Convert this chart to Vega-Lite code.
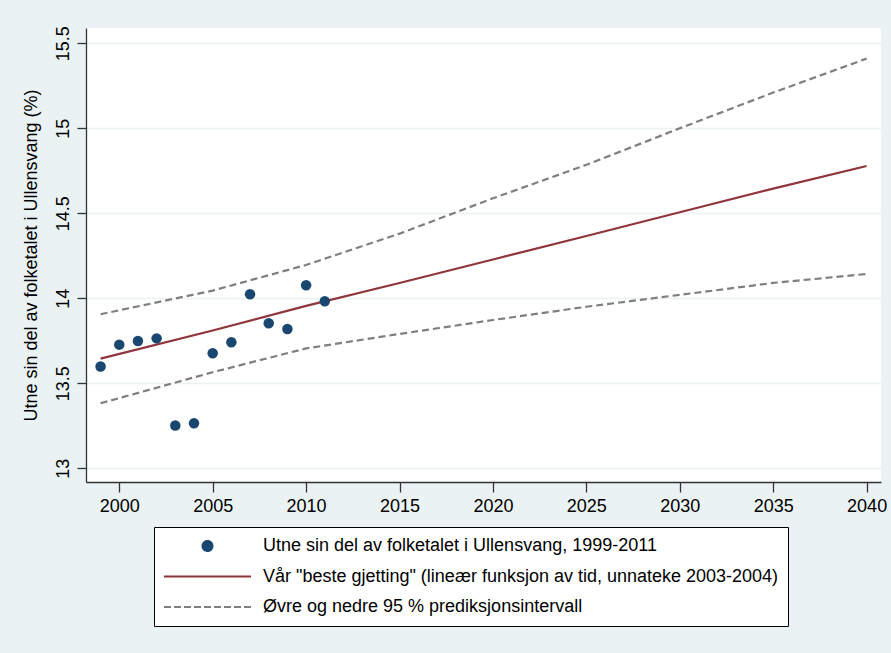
{
  "$schema": "https://vega.github.io/schema/vega-lite/v6.json",
  "width": 795,
  "height": 454,
  "autosize": {"type": "none"},
  "padding": {"left": 86, "top": 28, "right": 10, "bottom": 171},
  "background": "#EAF2F3",
  "config": {
    "view": {"fill": "white", "stroke": null},
    "font": "Liberation Sans",
    "axis": {"labelFont": "Liberation Sans", "titleFont": "Liberation Sans", "labelColor": "black", "titleColor": "black", "domainColor": "#333333", "tickColor": "#333333", "domainWidth": 1.3, "tickWidth": 1.3}
  },
  "data": {
    "values": [
      {"year": 1999, "value": 13.599, "series": "Utne sin del av folketalet i Ullensvang, 1999-2011", "band": "obs"},
      {"year": 2000, "value": 13.727, "series": "Utne sin del av folketalet i Ullensvang, 1999-2011", "band": "obs"},
      {"year": 2001, "value": 13.749, "series": "Utne sin del av folketalet i Ullensvang, 1999-2011", "band": "obs"},
      {"year": 2002, "value": 13.764, "series": "Utne sin del av folketalet i Ullensvang, 1999-2011", "band": "obs"},
      {"year": 2003, "value": 13.251, "series": "Utne sin del av folketalet i Ullensvang, 1999-2011", "band": "obs"},
      {"year": 2004, "value": 13.265, "series": "Utne sin del av folketalet i Ullensvang, 1999-2011", "band": "obs"},
      {"year": 2005, "value": 13.676, "series": "Utne sin del av folketalet i Ullensvang, 1999-2011", "band": "obs"},
      {"year": 2006, "value": 13.741, "series": "Utne sin del av folketalet i Ullensvang, 1999-2011", "band": "obs"},
      {"year": 2007, "value": 14.024, "series": "Utne sin del av folketalet i Ullensvang, 1999-2011", "band": "obs"},
      {"year": 2008, "value": 13.853, "series": "Utne sin del av folketalet i Ullensvang, 1999-2011", "band": "obs"},
      {"year": 2009, "value": 13.819, "series": "Utne sin del av folketalet i Ullensvang, 1999-2011", "band": "obs"},
      {"year": 2010, "value": 14.077, "series": "Utne sin del av folketalet i Ullensvang, 1999-2011", "band": "obs"},
      {"year": 2011, "value": 13.982, "series": "Utne sin del av folketalet i Ullensvang, 1999-2011", "band": "obs"},

      {"year": 1999, "value": 13.645, "series": "Vår \"beste gjetting\" (lineær funksjon av tid, unnateke 2003-2004)", "band": "fit"},
      {"year": 2005, "value": 13.81, "series": "Vår \"beste gjetting\" (lineær funksjon av tid, unnateke 2003-2004)", "band": "fit"},
      {"year": 2010, "value": 13.955, "series": "Vår \"beste gjetting\" (lineær funksjon av tid, unnateke 2003-2004)", "band": "fit"},
      {"year": 2015, "value": 14.09, "series": "Vår \"beste gjetting\" (lineær funksjon av tid, unnateke 2003-2004)", "band": "fit"},
      {"year": 2020, "value": 14.228, "series": "Vår \"beste gjetting\" (lineær funksjon av tid, unnateke 2003-2004)", "band": "fit"},
      {"year": 2025, "value": 14.366, "series": "Vår \"beste gjetting\" (lineær funksjon av tid, unnateke 2003-2004)", "band": "fit"},
      {"year": 2030, "value": 14.506, "series": "Vår \"beste gjetting\" (lineær funksjon av tid, unnateke 2003-2004)", "band": "fit"},
      {"year": 2035, "value": 14.645, "series": "Vår \"beste gjetting\" (lineær funksjon av tid, unnateke 2003-2004)", "band": "fit"},
      {"year": 2040, "value": 14.778, "series": "Vår \"beste gjetting\" (lineær funksjon av tid, unnateke 2003-2004)", "band": "fit"},

      {"year": 1999, "value": 13.906, "series": "Øvre og nedre 95 % prediksjonsintervall", "band": "upper"},
      {"year": 2005, "value": 14.045, "series": "Øvre og nedre 95 % prediksjonsintervall", "band": "upper"},
      {"year": 2010, "value": 14.196, "series": "Øvre og nedre 95 % prediksjonsintervall", "band": "upper"},
      {"year": 2015, "value": 14.38, "series": "Øvre og nedre 95 % prediksjonsintervall", "band": "upper"},
      {"year": 2020, "value": 14.588, "series": "Øvre og nedre 95 % prediksjonsintervall", "band": "upper"},
      {"year": 2025, "value": 14.785, "series": "Øvre og nedre 95 % prediksjonsintervall", "band": "upper"},
      {"year": 2030, "value": 15.0, "series": "Øvre og nedre 95 % prediksjonsintervall", "band": "upper"},
      {"year": 2035, "value": 15.21, "series": "Øvre og nedre 95 % prediksjonsintervall", "band": "upper"},
      {"year": 2040, "value": 15.41, "series": "Øvre og nedre 95 % prediksjonsintervall", "band": "upper"},

      {"year": 1999, "value": 13.382, "series": "Øvre og nedre 95 % prediksjonsintervall", "band": "lower"},
      {"year": 2005, "value": 13.565, "series": "Øvre og nedre 95 % prediksjonsintervall", "band": "lower"},
      {"year": 2010, "value": 13.705, "series": "Øvre og nedre 95 % prediksjonsintervall", "band": "lower"},
      {"year": 2015, "value": 13.79, "series": "Øvre og nedre 95 % prediksjonsintervall", "band": "lower"},
      {"year": 2020, "value": 13.872, "series": "Øvre og nedre 95 % prediksjonsintervall", "band": "lower"},
      {"year": 2025, "value": 13.95, "series": "Øvre og nedre 95 % prediksjonsintervall", "band": "lower"},
      {"year": 2030, "value": 14.02, "series": "Øvre og nedre 95 % prediksjonsintervall", "band": "lower"},
      {"year": 2035, "value": 14.09, "series": "Øvre og nedre 95 % prediksjonsintervall", "band": "lower"},
      {"year": 2040, "value": 14.143, "series": "Øvre og nedre 95 % prediksjonsintervall", "band": "lower"}
    ]
  },
  "encoding": {
    "x": {
      "field": "year", "type": "quantitative",
      "scale": {"domain": [1998.22, 2040.77], "nice": false, "zero": false},
      "axis": {"title": null, "values": [2000, 2005, 2010, 2015, 2020, 2025, 2030, 2035, 2040], "format": "d", "grid": false, "labelFontSize": 18, "tickSize": 10, "labelPadding": 5, "labelFlush": false}
    },
    "y": {
      "field": "value", "type": "quantitative",
      "scale": {"domain": [12.919, 15.59], "nice": false, "zero": false},
      "axis": {"title": "Utne sin del av folketalet i Ullensvang (%)", "titleFontSize": 18, "titleFontWeight": "normal", "titlePadding": 14, "values": [13, 13.5, 14, 14.5, 15, 15.5], "format": "~g", "labelAngle": -90, "labelFontSize": 18, "labelPadding": 5, "tickSize": 9, "grid": true, "gridColor": "#EAF2F3", "gridWidth": 1.5, "labelFlush": false}
    },
    "color": {
      "field": "series", "type": "nominal",
      "scale": {
        "domain": ["Utne sin del av folketalet i Ullensvang, 1999-2011", "Vår \"beste gjetting\" (lineær funksjon av tid, unnateke 2003-2004)", "Øvre og nedre 95 % prediksjonsintervall"],
        "range": ["#1a476f", "#90353b", "#7f7f7f"]
      },
      "legend": {
        "orient": "none", "legendX": 68, "legendY": 499, "direction": "vertical", "title": null,
        "labelFontSize": 18, "labelFont": "Liberation Sans", "labelColor": "black", "labelLimit": 0,
        "symbolSize": 7569, "symbolStrokeWidth": 2, "symbolType": "stroke",
        "strokeColor": "black", "fillColor": "white", "padding": 9,
        "clipHeight": 20, "rowPadding": 10.5, "labelOffset": 11,
        "encode": {
          "symbols": {
            "update": {
              "shape": {"signal": "datum.index === 0 ? 'circle' : 'stroke'"},
              "size": {"signal": "datum.index === 0 ? 100 : 7569"},
              "fill": {"signal": "datum.index === 0 ? '#1a476f' : 'transparent'"},
              "stroke": {"signal": "datum.index === 0 ? 'transparent' : (datum.index === 1 ? '#90353b' : '#7f7f7f')"},
              "strokeDash": {"signal": "datum.index === 2 ? [7, 3] : [1, 0]"},
              "strokeWidth": {"value": 2},
              "opacity": {"value": 1}
            }
          }
        }
      }
    }
  },
  "layer": [
    {
      "transform": [{"filter": "datum.band === 'upper' || datum.band === 'lower'"}],
      "mark": {"type": "line", "strokeWidth": 2.2, "strokeDash": [7, 4]},
      "encoding": {"detail": {"field": "band"}}
    },
    {
      "transform": [{"filter": "datum.band === 'fit'"}],
      "mark": {"type": "line", "strokeWidth": 2.2}
    },
    {
      "transform": [{"filter": "datum.band === 'obs'"}],
      "mark": {"type": "circle", "size": 110, "opacity": 1}
    }
  ]
}
